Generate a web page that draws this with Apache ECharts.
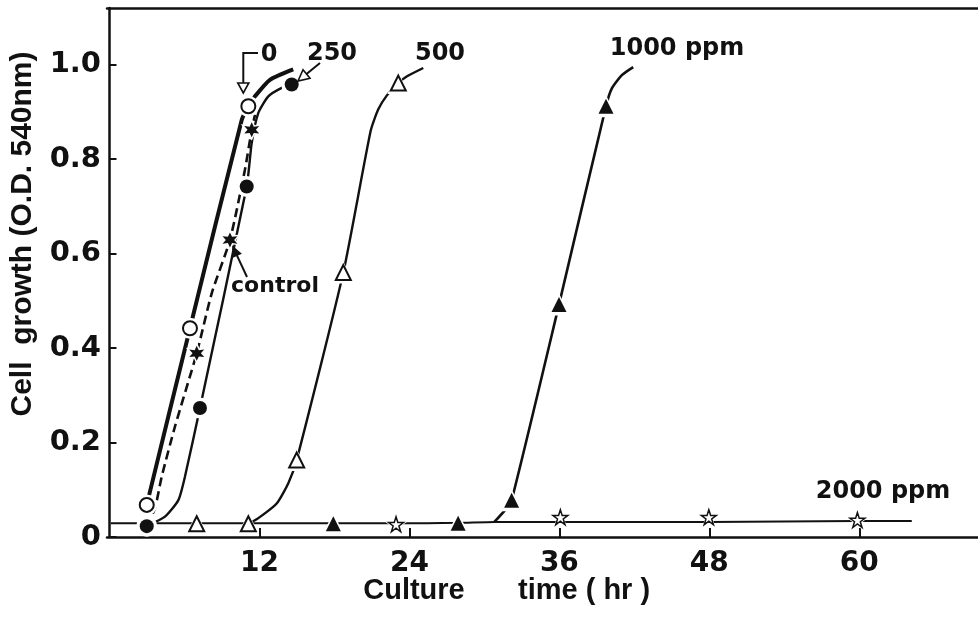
<!DOCTYPE html>
<html><head><meta charset="utf-8">
<script src="https://cdn.jsdelivr.net/npm/echarts@6/dist/echarts.min.js"></script>
<style>html,body{margin:0;padding:0;background:#fff}#c{width:978px;height:620px}</style>
</head><body><div id="c"></div>
<script>
// ---- tick labels ----
const xTicks = [12, 24, 36, 48, 60];
const yTicks = [0, 0.2, 0.4, 0.6, 0.8, 1.0];

// ---- measured points [culture time (hr), O.D. 540nm] ----
const pts0 = [[2.98, 0.068], [6.44, 0.442], [11.11, 0.912]];
const ptsControl = [[6.98, 0.389], [9.64, 0.629], [11.38, 0.862]];
const pts250 = [[2.98, 0.023], [7.24, 0.273], [10.98, 0.742], [14.58, 0.958]];
const pts500 = [[6.98, 0.028], [11.11, 0.028], [14.98, 0.163], [18.71, 0.56], [23.11, 0.961]];
const pts1000 = [[17.91, 0.028], [27.9, 0.029], [32.18, 0.078], [35.97, 0.492], [39.73, 0.912]];
const pts2000 = [[22.93, 0.027], [36.08, 0.042], [47.96, 0.042], [59.85, 0.036]];

// ---- hand-drawn curves ----
const curve0 = [[2.98, 0.068], [6.44, 0.442], [10.58, 0.883], [11.11, 0.912], [11.64, 0.933], [12.84, 0.968], [14.7, 0.99]];
const curveControl = [[2.98, 0.023], [3.64, 0.061], [4.18, 0.128], [5.24, 0.234], [6.98, 0.389], [8.18, 0.516], [9.64, 0.629], [10.84, 0.778], [11.38, 0.862], [11.64, 0.894]];
const curve250 = [[2.98, 0.023], [4.44, 0.043], [5.51, 0.078], [6.04, 0.128], [7.24, 0.273], [10.98, 0.742], [11.38, 0.834], [11.91, 0.898], [12.71, 0.933], [13.78, 0.951], [14.58, 0.958]];
const curve500 = [[11.11, 0.028], [11.91, 0.04], [13.38, 0.071], [14.31, 0.114], [14.98, 0.163], [18.71, 0.56], [20.9, 0.86], [21.5, 0.905], [22.2, 0.935], [23.11, 0.961], [23.78, 0.975], [25.11, 0.993]];
const curve1000 = [[30.8, 0.032], [31.65, 0.057], [32.18, 0.078], [35.97, 0.492], [39.73, 0.912], [40.2, 0.95], [41.0, 0.978], [41.91, 0.995]];
const curveBase = [[0.1, 0.029], [2.98, 0.029], [6.98, 0.029], [11.11, 0.029], [17.91, 0.029], [22.93, 0.029], [27.9, 0.03], [30.8, 0.032], [36.08, 0.032], [47.96, 0.032], [59.85, 0.034], [64.2, 0.034]];

// ---- annotation texts ----
const labelTexts = ['0', '250', '500', '1000 ppm', '2000 ppm', 'control'];
const xTitleParts = ['Culture', 'time ( hr )'];
const yTitle = 'Cell  growth (O.D. 540nm)';

const BLACK = '#111';
const STAR5 = 'path://M50,0 L61.8,35.4 L99,35.4 L68.8,57.3 L80.3,92.7 L50,70.8 L19.7,92.7 L31.2,57.3 L1,35.4 L38.2,35.4 Z';
const STAR6 = 'path://M50,0 L62,29.2 L93.3,25 L74,50 L93.3,75 L62,70.8 L50,100 L38,70.8 L6.7,75 L26,50 L6.7,25 L38,29.2 Z';

function lineSeries(name, data, width, type) {
  return { name: name, type: 'line', data: data, symbol: 'none', showSymbol: false,
    smooth: 0.2, z: 2, silent: true, animation: false,
    lineStyle: { color: BLACK, width: width, type: type || 'solid' } };
}
function markerSeries(name, data, symbol, size, filled, bw) {
  return [
    { name: name + ' gap', type: 'scatter', data: data, symbol: symbol, symbolSize: size + 7, z: 3,
      silent: true, animation: false, itemStyle: { color: '#fff', borderWidth: 0, opacity: 1 } },
    { name: name, type: 'scatter', data: data, symbol: symbol, symbolSize: size, z: 4,
      silent: true, animation: false,
      itemStyle: { color: filled ? BLACK : '#fff', borderColor: BLACK, borderWidth: bw, opacity: 1 } }
  ];
}
function txt(t, x, y, size, family, extra) {
  return Object.assign({ type: 'text', x: x, y: y, z: 10, silent: true,
    style: { text: t, font: 'bold ' + size + 'px ' + family, fill: BLACK,
      align: 'center', verticalAlign: 'middle', textAlign: 'center', textVerticalAlign: 'middle' } }, extra || {});
}
function arrow(x1, y1, x2, y2, len, hw, filled) {
  const dx = x2 - x1, dy = y2 - y1, L = Math.hypot(dx, dy), ux = dx / L, uy = dy / L;
  const bx = x2 - ux * len, by = y2 - uy * len;
  return [
    { type: 'line', z: 10, silent: true, shape: { x1: x1, y1: y1, x2: bx, y2: by }, style: { stroke: BLACK, lineWidth: 2 } },
    { type: 'polygon', z: 10, silent: true, shape: { points: [[x2, y2], [bx - uy * hw, by + ux * hw], [bx + uy * hw, by - ux * hw]] },
      style: { fill: filled ? BLACK : '#fff', stroke: BLACK, lineWidth: 1.6 } }
  ];
}

const NUMFONT = '"DejaVu Sans"';
const TXTFONT = '"Liberation Sans", Arial';

const graphics = [].concat(
  [txt(labelTexts[0], 269, 55, 24, NUMFONT),
   txt(labelTexts[1], 332, 54, 24, NUMFONT),
   txt(labelTexts[2], 440, 54, 24, NUMFONT),
   txt(labelTexts[3], 677, 49, 24, NUMFONT),
   txt(labelTexts[4], 883, 492, 24, NUMFONT),
   txt(labelTexts[5], 275, 286, 22, NUMFONT),
   txt(xTitleParts[0], 414, 591, 29, TXTFONT),
   txt(xTitleParts[1], 518, 591, 29, TXTFONT, { style: { text: xTitleParts[1], font: 'bold 29px ' + TXTFONT, fill: BLACK,
      align: 'left', verticalAlign: 'middle', textAlign: 'left', textVerticalAlign: 'middle' } }),
   txt(yTitle, 23, 234, 30, TXTFONT, { rotation: Math.PI / 2 }),
   { type: 'polyline', z: 10, silent: true, shape: { points: [[258, 53], [243.3, 53], [243.3, 84]] }, style: { stroke: BLACK, lineWidth: 2, fill: null } },
   { type: 'polygon', z: 10, silent: true, shape: { points: [[237.8, 83], [248.8, 83], [243.3, 93]] }, style: { fill: '#fff', stroke: BLACK, lineWidth: 1.6 } }
  ],
  arrow(320, 63, 298, 81, 11, 5.5, false),
  arrow(247, 277, 233, 247, 9, 4, true)
);

const chart = echarts.init(document.getElementById('c'));
chart.setOption({
  animation: false,
  backgroundColor: '#fff',
  grid: { left: 107, right: 0, top: 8, bottom: 83, containLabel: false },
  xAxis: [{
    type: 'value', min: -0.2, max: 69.5, position: 'bottom',
    axisLine: { show: true, onZero: false, lineStyle: { color: BLACK, width: 2.5 } },
    axisTick: { show: true, inside: true, length: 9, customValues: xTicks, lineStyle: { color: BLACK, width: 2 } },
    axisLabel: { show: true, customValues: xTicks, margin: 13, color: BLACK, fontFamily: 'DejaVu Sans', fontWeight: 'bold', fontSize: 28 },
    splitLine: { show: false }
  }, {
    type: 'value', min: -0.2, max: 69.5, position: 'top',
    axisLine: { show: true, onZero: false, lineStyle: { color: BLACK, width: 2.5 } },
    axisTick: { show: false }, axisLabel: { show: false }, splitLine: { show: false }
  }],
  yAxis: {
    type: 'value', min: 0, max: 1.12, interval: 0.2,
    axisLine: { show: true, lineStyle: { color: BLACK, width: 2.5 } },
    axisTick: { show: true, inside: true, length: 7, customValues: yTicks, lineStyle: { color: BLACK, width: 2 } },
    axisLabel: { show: true, margin: 6, color: BLACK, fontFamily: 'DejaVu Sans', fontWeight: 'bold', fontSize: 29,
      customValues: yTicks,
      formatter: function (v) { return v === 0 ? '0' : v.toFixed(1); } },
    splitLine: { show: false }
  },
  series: [].concat(
    [lineSeries('2000 ppm baseline', curveBase, 2),
     lineSeries('0', curve0, 4),
     lineSeries('control', curveControl, 2.6, [9, 5]),
     lineSeries('250', curve250, 2.4),
     lineSeries('500', curve500, 2.4),
     lineSeries('1000 ppm', curve1000, 2.6)],
    markerSeries('0 pts', pts0, 'circle', 14, false, 2),
    markerSeries('control pts', ptsControl, STAR6, 15, true, 0),
    markerSeries('250 pts', pts250, 'circle', 14, true, 0),
    markerSeries('500 pts', pts500, 'triangle', 15, false, 2),
    markerSeries('1000 pts', pts1000, 'triangle', 15, true, 0),
    markerSeries('2000 pts', pts2000, STAR5, 15, false, 1.5)
  ),
  graphic: graphics
});
</script></body></html>
